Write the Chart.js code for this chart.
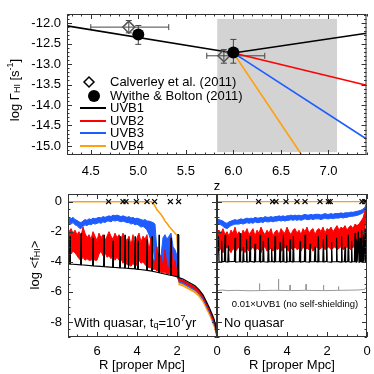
<!DOCTYPE html>
<html>
<head>
<meta charset="utf-8">
<script src="https://cdn.jsdelivr.net/npm/chart.js@4.4.1/dist/chart.umd.min.js"></script>
<style>
  html, body { margin: 0; padding: 0; background: #fff; }
  #wrap { position: relative; width: 374px; height: 374px; }
  #wrap canvas { position: absolute; left: 0; top: 0; }
</style>
</head>
<body>
<div id="wrap">
  <canvas id="top" width="374" height="374"></canvas>
  <canvas id="botL" width="374" height="374"></canvas>
  <canvas id="botR" width="374" height="374"></canvas>
</div>
<script>
// ---- top panel: photoionisation rate vs redshift ----
const Z_TICKS = [4.5, 5.0, 5.5, 6.0, 6.5, 7.0];
const G_TICKS = [-12.0, -12.5, -13.0, -13.5, -14.0, -14.5, -15.0];

const UVB1_Z = [4.25, 6.0, 7.4];
const UVB1_G = [-12.07, -12.73, -12.25];
const UVB2_Z = [6.0, 7.4];
const UVB2_G = [-12.73, -13.52];
const UVB3_Z = [6.0, 7.4];
const UVB3_G = [-12.73, -14.83];
const UVB4_Z = [6.0, 6.8];
const UVB4_G = [-12.73, -15.5];

// Calverley et al. (2011)
const CAL_Z = [4.9, 5.9];
const CAL_G = [-12.1, -12.8];
const CAL_Z_LO = [4.5, 5.72];
const CAL_Z_HI = [5.32, 6.33];
const CAL_G_LO = [-12.24, -12.98];
const CAL_G_HI = [-11.94, -12.65];

// Wyithe & Bolton (2011)
const WB_Z = [5.0, 6.0];
const WB_G = [-12.28, -12.72];
const WB_G_LO = [-12.52, -12.98];
const WB_G_HI = [-12.06, -12.4];

// shaded redshift range
const BAND_Z = [5.83, 7.09];
const BAND_G = [-11.9, -15.15];

// ---- bottom panels: neutral fraction along the sightline ----
const R_TICKS = [0, 2, 4, 6];
const F_TICKS = [0, -2, -4, -6, -8];

const R_GRID = [7.5, 7.4, 7.3, 7.2, 7.1, 7.0, 6.9, 6.8, 6.7, 6.6, 6.5, 6.4, 6.3, 6.2, 6.1, 6.0,
  5.9, 5.8, 5.7, 5.6, 5.5, 5.4, 5.3, 5.2, 5.1, 5.0, 4.9, 4.8, 4.7, 4.6, 4.5, 4.4, 4.3, 4.2, 4.1, 4.0,
  3.9, 3.8, 3.7, 3.6, 3.5, 3.4, 3.3, 3.2, 3.1, 3.0, 2.9, 2.8, 2.7, 2.6, 2.5, 2.4, 2.3, 2.2, 2.1, 2.0,
  1.9, 1.8, 1.7, 1.6, 1.5, 1.4, 1.3, 1.2, 1.1, 1.0, 0.9, 0.8, 0.7, 0.6, 0.5, 0.4, 0.3, 0.2, 0.1, 0.0];

// with quasar
const BLUE_Q_HI = [-1.15, -1.1, -1.15, -1.05, -1.2, -1.25, -1.35, -1.4, -1.3, -1.2, -1.25,
  -1.15, -1.2, -1.1, -1.15, -1.1, -1.05, -1.1, -1.0, -1.05, -1.0, -0.95, -1.0, -0.9, -0.95, -0.9,
  -0.95, -1.0, -0.95, -1.0, -1.05, -1.0, -1.1, -1.05, -1.15, -1.1, -1.15, -1.2, -1.25, -1.2, -1.3,
  -1.3, -1.35, -1.4, -1.5, -3.4, -3.5, -3.6, -2.4, -2.2, -2.5, -2.3, -2.1, -3.0, -3.2, -3.6,
  -5.16, -5.2, -5.25, -5.32, -5.4, -5.47, -5.55, -5.62, -5.7, -5.82, -5.95, -6.12, -6.3, -6.55, -6.85,
  -7.1, -7.4, -7.75, -8.1, -9.0];
const BLUE_Q_LO = [-1.5, -1.45, -1.5, -1.4, -1.55, -1.6, -1.75, -1.8, -1.65, -1.55, -1.6,
  -1.5, -1.55, -1.45, -1.5, -1.45, -1.4, -1.45, -1.35, -1.4, -1.3, -1.3, -1.35, -1.25, -1.3, -1.25,
  -1.3, -1.35, -1.3, -1.35, -1.4, -1.4, -1.5, -1.45, -1.55, -1.5, -1.6, -1.7, -1.65, -1.75, -1.9,
  -2.2, -2.6, -2.9, -4.3, -4.4, -4.4, -4.3, -4.4, -4.5, -4.4, -4.5, -4.6, -4.7, -4.8, -4.9,
  -5.36, -5.4, -5.45, -5.52, -5.6, -5.67, -5.75, -5.82, -5.9, -6.02, -6.15, -6.32, -6.5, -6.75, -7.05,
  -7.3, -7.6, -7.95, -8.3, -9.0];
const RED_Q_HI = [-2.1, -2.0, -1.8, -2.1, -1.9, -2.2, -2.0, -2.3, -1.7, -2.1, -2.4,
  -2.2, -2.5, -2.0, -2.3, -2.6, -2.1, -2.4, -2.2, -2.6, -2.3, -2.0, -2.3, -2.5, -2.1, -2.4,
  -2.2, -2.5, -2.1, -2.4, -2.6, -2.3, -2.9, -2.2, -3.1, -2.4, -2.1, -2.7, -2.3, -2.5, -2.2,
  -3.3, -2.4, -3.8, -4.1, -3.0, -4.3, -3.6, -4.4, -3.2, -4.3, -4.4, -2.4, -4.5, -3.9, -4.8,
  -5.14, -5.18, -5.23, -5.3, -5.38, -5.45, -5.53, -5.6, -5.68, -5.8, -5.93, -6.1, -6.28, -6.53, -6.83,
  -7.08, -7.38, -7.73, -8.08, -9.0];
const RED_Q_LO = [-3.5, -3.6, -3.5, -3.3, -3.4, -3.6, -3.8, -3.9, -3.7, -3.9, -3.8,
  -3.9, -3.9, -3.8, -3.9, -3.9, -3.5, -3.3, -3.6, -3.4, -3.7, -3.6, -3.8, -3.5, -3.9, -3.7,
  -3.9, -3.8, -4.1, -3.9, -4.2, -4.2, -4.3, -4.1, -4.3, -4.2, -3.9, -4.1, -4.0, -4.2, -4.3,
  -4.4, -4.4, -4.5, -4.5, -4.6, -4.6, -4.7, -4.7, -4.7, -4.8, -4.8, -4.8, -4.9, -4.9, -5.0,
  -5.26, -5.3, -5.35, -5.42, -5.5, -5.57, -5.65, -5.72, -5.8, -5.92, -6.05, -6.22, -6.4, -6.65, -6.95,
  -7.2, -7.5, -7.85, -8.2, -9.0];
const ORANGE_Q_HI = [0, 0, 0, 0, 0, 0, 0, 0, 0, 0, 0, 0, 0, 0, 0, 0, 0, 0, 0, 0, 0,
  0, 0, 0, 0, 0, 0, 0, 0, 0, 0, 0, 0, 0, 0, 0, 0, 0, 0, 0, 0, 0, 0,
  -0.1, -0.3, -0.55, -0.7, -0.85, -1.05, -1.3, -1.45, -1.65, -1.8, -1.95, -2.1, -2.25,
  -5.18, -5.22, -5.27, -5.34, -5.42, -5.49, -5.57, -5.64, -5.72, -5.84, -5.97, -6.14, -6.32, -6.57, -6.87,
  -7.12, -7.42, -7.77, -8.12, -9.0];
const ORANGE_Q_LO = [0, 0, 0, 0, 0, 0, 0, 0, 0, 0, 0, 0, 0, 0, 0, 0, 0, 0, 0, 0, 0,
  0, 0, 0, 0, 0, 0, 0, 0, 0, 0, 0, 0, 0, 0, 0, 0, 0, 0, 0, 0, 0, 0,
  -0.1, -0.3, -0.55, -0.7, -0.85, -1.05, -1.3, -1.45, -1.65, -1.8, -1.95, -2.1, -2.25,
  -5.51, -5.55, -5.6, -5.67, -5.75, -5.82, -5.9, -5.97, -6.05, -6.17, -6.3, -6.47, -6.65, -6.9, -7.2,
  -7.45, -7.75, -8.1, -8.45, -9.0];
const BLACK_Q = [[7.5, -4.1], [7.37, -4.15], [7.35, -2.3], [7.33, -4.15], [6.82, -4.2], [6.8, -2.1], [6.78, -4.2],
  [6.22, -4.28], [6.2, -2.4], [6.18, -4.28], [5.67, -4.33], [5.65, -2.2], [5.63, -4.33],
  [5.22, -4.37], [5.2, -2.6], [5.18, -4.37], [4.87, -4.4], [4.85, -2.3], [4.83, -4.4],
  [4.62, -4.42], [4.6, -2.2], [4.58, -4.42], [4.45, -4.44], [4.43, -2.5], [4.41, -4.44],
  [4.12, -4.47], [4.1, -2.3], [4.08, -4.48], [3.97, -4.5], [3.95, -2.6], [3.93, -4.5],
  [3.52, -4.57], [3.5, -2.5], [3.48, -4.58], [3.27, -4.62], [3.25, -2.3], [3.23, -4.63],
  [2.92, -4.72], [2.9, -2.2], [2.88, -4.73], [2.32, -4.9], [2.3, -2.4], [2.28, -4.9],
  [1.98, -5.0], [1.96, -2.2], [1.93, -2.2], [1.91, -5.06], [1.7, -5.15], [1.5, -5.3], [1.3, -5.45],
  [1.1, -5.6], [0.9, -5.85], [0.7, -6.2], [0.55, -6.6], [0.4, -7.0], [0.27, -7.4], [0.15, -7.8],
  [0.08, -8.2], [0.03, -8.6], [0, -9.0]];
const XMARK_Q = [5.42, 4.7, 4.55, 4.03, 3.5, 3.12, 2.33, 1.92];

// no quasar
const BLUE_N_HI = [-1.2, -1.2, -1.25, -1.3, -1.4, -1.45, -1.35, -1.3, -1.25, -1.2, -1.25,
  -1.2, -1.15, -1.2, -1.15, -1.1, -1.15, -1.1, -1.15, -1.05, -1.1, -1.1, -1.05, -1.1, -1.0, -1.05,
  -1.05, -1.0, -1.05, -1.0, -1.0, -0.95, -1.0, -0.95, -1.0, -0.95, -0.95, -0.9, -0.95, -0.9, -0.95,
  -0.9, -0.95, -0.9, -0.85, -0.9, -0.9, -0.85, -0.9, -0.85, -0.85, -0.85, -0.9, -0.85, -0.8, -0.85,
  -0.85, -0.8, -0.85, -0.8, -0.8, -0.8, -0.75, -0.8, -0.75, -0.75, -0.75, -0.7, -0.72, -0.68, -0.65,
  -0.62, -0.58, -0.5, -0.38, 0];
const BLUE_N_LO = [-1.5, -1.5, -1.55, -1.65, -1.75, -1.8, -1.7, -1.6, -1.55, -1.5, -1.5,
  -1.5, -1.45, -1.5, -1.45, -1.4, -1.45, -1.4, -1.45, -1.35, -1.4, -1.4, -1.35, -1.4, -1.3, -1.35,
  -1.35, -1.3, -1.35, -1.3, -1.3, -1.25, -1.3, -1.25, -1.3, -1.25, -1.25, -1.2, -1.25, -1.2, -1.25,
  -1.2, -1.25, -1.2, -1.15, -1.2, -1.2, -1.15, -1.2, -1.15, -1.15, -1.15, -1.2, -1.15, -1.1, -1.15,
  -1.15, -1.1, -1.15, -1.1, -1.1, -1.1, -1.05, -1.1, -1.05, -1.05, -1.0, -0.98, -0.97, -0.95, -0.92,
  -0.88, -0.82, -0.75, -0.6, -0.1];
const RED_N_HI = [-2.0, -1.9, -2.1, -1.8, -2.2, -2.0, -2.3, -1.9, -2.1, -1.7, -2.2,
  -2.0, -2.3, -1.9, -2.1, -1.8, -2.2, -2.0, -1.8, -2.3, -1.9, -2.1, -1.7, -2.0, -2.2, -1.9,
  -2.1, -1.8, -2.3, -2.0, -1.9, -2.2, -1.8, -2.0, -2.1, -1.7, -2.0, -2.2, -1.9, -1.8, -2.1,
  -1.9, -2.2, -1.8, -2.0, -1.7, -2.1, -1.9, -1.8, -2.2, -1.9, -1.8, -2.0, -1.7, -2.1, -1.8,
  -1.9, -1.7, -2.0, -1.8, -1.6, -1.9, -1.7, -1.8, -1.6, -1.9, -1.7, -1.6, -1.8, -1.5, -1.6,
  -1.5, -1.3, -1.1, -0.6, 0];
const RED_N_LO = [-3.2, -3.3, -3.1, -3.4, -3.2, -3.0, -3.2, -3.4, -3.1, -3.3, -3.2,
  -3.0, -3.3, -3.2, -3.4, -3.1, -3.3, -3.2, -3.0, -3.3, -3.1, -3.2, -3.4, -3.1, -3.0, -3.3,
  -3.2, -3.1, -3.3, -3.0, -3.2, -3.1, -3.3, -3.2, -3.0, -3.2, -3.3, -3.1, -3.2, -3.0, -3.2,
  -3.1, -3.3, -3.0, -3.2, -3.1, -3.2, -3.0, -3.3, -3.1, -3.0, -3.2, -3.1, -3.0, -3.2, -3.1,
  -3.0, -3.2, -3.1, -3.0, -3.2, -3.1, -3.0, -3.2, -3.1, -3.0, -3.1, -3.2, -3.0, -3.1, -3.0,
  -3.0, -2.9, -2.6, -1.8, -0.2];
const BLACK_N = [[7.5, -4.0], [7.46, -4.0], [7.43, -2.3], [7.4, -4.0], [7.3, -4.02], [7.27, -2.6], [7.24, -4.0],
  [7.13, -3.98], [7.1, -2.2], [7.07, -4.0], [6.96, -4.02], [6.93, -2.9], [6.9, -4.0],
  [6.63, -3.98], [6.6, -2.4], [6.57, -4.02], [6.38, -4.0], [6.35, -2.1], [6.32, -4.0],
  [6.21, -4.02], [6.18, -3.0], [6.15, -3.98], [6.05, -4.0], [6.02, -2.5], [5.99, -4.02],
  [5.88, -4.0], [5.85, -2.3], [5.82, -3.98], [5.63, -4.02], [5.6, -2.8], [5.57, -4.0],
  [5.38, -4.0], [5.35, -2.2], [5.32, -4.02], [5.21, -3.98], [5.18, -2.6], [5.15, -4.0],
  [4.96, -4.02], [4.93, -2.4], [4.9, -4.0], [4.8, -4.0], [4.77, -3.1], [4.74, -3.98],
  [4.63, -4.02], [4.6, -2.3], [4.57, -4.0], [4.38, -4.0], [4.35, -2.7], [4.32, -4.02],
  [4.21, -3.98], [4.18, -2.2], [4.15, -4.0], [4.05, -4.02], [4.02, -2.9], [3.99, -4.0],
  [3.88, -4.0], [3.85, -2.5], [3.82, -3.98], [3.71, -4.02], [3.68, -2.3], [3.65, -4.0],
  [3.38, -4.0], [3.35, -2.6], [3.32, -4.02], [3.13, -3.98], [3.1, -2.2], [3.07, -4.0],
  [2.88, -4.02], [2.85, -2.8], [2.82, -4.0], [2.63, -4.0], [2.6, -3.0], [2.57, -3.98],
  [2.46, -4.02], [2.43, -2.3], [2.4, -4.0], [2.21, -4.0], [2.18, -2.5], [2.15, -4.02],
  [2.05, -3.98], [2.02, -2.2], [1.99, -4.0], [1.8, -4.02], [1.77, -2.7], [1.74, -4.0],
  [1.55, -4.0], [1.52, -2.4], [1.49, -3.98], [1.3, -4.02], [1.27, -2.3], [1.24, -4.0],
  [1.13, -4.0], [1.1, -3.0], [1.07, -4.02], [0.96, -3.98], [0.93, -2.2], [0.9, -4.0],
  [0.8, -4.02], [0.77, -2.6], [0.74, -4.0], [0.63, -4.0], [0.6, -2.1], [0.57, -3.98],
  [0.55, -4.02], [0.52, -2.5], [0.49, -4.0], [0.46, -4.0], [0.43, -2.0], [0.4, -4.02],
  [0.38, -3.98], [0.35, -2.4], [0.32, -4.0], [0.3, -4.0], [0.27, -1.9], [0.24, -4.02],
  [0.21, -3.98], [0.18, -2.2], [0.15, -4.0], [0.13, -4.0], [0.1, -1.8], [0.07, -4.0],
  [0.04, -4.0], [0.02, -1.5], [0, -0.3]];
const GRAY_N = [[7.5, -5.92], [7.2, -5.88], [7.0, -5.92], [6.5, -5.9], [5.9, -5.93], [5.4, -5.92], [5.38, -5.45], [5.36, -5.92],
  [4.8, -5.9], [4.45, -5.9], [4.43, -5.15], [4.41, -5.9], [3.87, -5.92], [3.85, -5.55], [3.83, -5.92],
  [3.07, -5.9], [3.05, -5.5], [3.03, -5.9], [2.2, -5.92], [2.18, -5.55], [2.16, -5.92],
  [1.45, -5.9], [1.43, -5.65], [1.41, -5.9], [0.5, -5.88], [0.15, -5.85], [0.05, -5.75], [0, -5.45]];
const ORANGE_N = [[7.5, 0], [0, 0]];
const XMARK_N = [5.42, 4.72, 4.55, 4.05, 3.5, 3.1, 2.35, 1.93, 1.84, 0.25, 0.12, 0.05];

// ---- styling ----
const FONT = '"Liberation Sans", Arial, sans-serif';
Chart.defaults.font.family = FONT;
Chart.defaults.font.size = 13;
Chart.defaults.color = '#000';

const C_BLACK = '#000000';
const C_RED = '#ff0000';
const C_BLUE = '#1f5cff';
const C_ORANGE = '#ffa010';
const C_GRAY = '#9a9a9a';

const pts = (xs, ys) => xs.map((x, i) => ({ x: x, y: ys[i] }));
const pairs = arr => arr.map(p => ({ x: p[0], y: p[1] }));

function band(label, hi, lo, color, width) {
  return [
    { label: label, data: pts(R_GRID, hi), borderColor: color, backgroundColor: color,
      borderWidth: width, pointRadius: 0, fill: '+1' },
    { label: label + ' lo', data: pts(R_GRID, lo), borderColor: color, backgroundColor: color,
      borderWidth: width, pointRadius: 0, fill: false }
  ];
}

// inward ticks on all four sides plus a box, like the original plot
function eachTick(scale, minor, major, fn) {
  const lo = Math.min(scale.min, scale.max);
  const hi = Math.max(scale.min, scale.max);
  for (let k = Math.ceil(lo / minor - 1e-6); k * minor <= hi + 1e-6; k++) {
    const v = k * minor;
    const r = v / major;
    fn(Math.round(scale.getPixelForValue(v)) + 0.5, Math.abs(r - Math.round(r)) < 1e-6);
  }
}
const idlFrame = {
  id: 'idlFrame',
  afterDatasetsDraw(chart, args, o) {
    const { ctx, chartArea: a } = chart;
    ctx.save();
    ctx.strokeStyle = '#333';
    ctx.lineWidth = 1;
    ctx.beginPath();
    eachTick(chart.scales.x, o.xMinor, o.xMajor, (px, major) => {
      const len = major ? 5 : 2.5;
      ctx.moveTo(px, a.bottom); ctx.lineTo(px, a.bottom - len);
      ctx.moveTo(px, a.top); ctx.lineTo(px, a.top + len);
    });
    eachTick(chart.scales.y, o.yMinor, o.yMajor, (py, major) => {
      const len = major ? 5 : 2.5;
      ctx.moveTo(a.left, py); ctx.lineTo(a.left + len, py);
      ctx.moveTo(a.right, py); ctx.lineTo(a.right - len, py);
    });
    ctx.stroke();
    ctx.strokeRect(a.left + 0.5, a.top + 0.5, a.width - 1, a.height - 1);
    ctx.restore();
  }
};

// text with sub/superscripts: parts = [text, size, dy]
function richText(ctx, parts, x, y, align, rotate) {
  ctx.save();
  ctx.translate(x, y);
  if (rotate) ctx.rotate(-Math.PI / 2);
  ctx.textBaseline = 'middle';
  ctx.textAlign = 'left';
  ctx.fillStyle = '#000';
  let w = 0;
  parts.forEach(p => { ctx.font = p[1] + 'px ' + FONT; w += ctx.measureText(p[0]).width; });
  let cx = align === 'center' ? -w / 2 : 0;
  parts.forEach(p => {
    ctx.font = p[1] + 'px ' + FONT;
    ctx.fillText(p[0], cx, p[2] || 0);
    cx += ctx.measureText(p[0]).width;
  });
  ctx.restore();
}

function axes(xMin, xMax, xTicks, xFmt, yMin, yMax, yTicks, yFmt, opts) {
  return {
    x: {
      type: 'linear', min: xMin, max: xMax, reverse: !!opts.reverse,
      grid: { display: false, drawTicks: false }, border: { display: false },
      ticks: { padding: opts.xPad, callback: xFmt, maxRotation: 0 },
      afterBuildTicks: s => { s.ticks = xTicks.map(v => ({ value: v })); },
      afterFit: s => { s.height = 30; }
    },
    y: {
      type: 'linear', min: yMin, max: yMax,
      grid: { display: false, drawTicks: false }, border: { display: false },
      ticks: { padding: 6, callback: yFmt, display: !opts.noYLabels },
      afterBuildTicks: s => { s.ticks = yTicks.map(v => ({ value: v })); },
      afterFit: s => { s.width = opts.noYLabels ? 0 : 50; }
    }
  };
}

// ---------- top chart ----------
const topDecor = {
  id: 'topDecor',
  beforeDatasetsDraw(chart) {
    const { ctx, scales: { x, y } } = chart;
    ctx.save();
    ctx.fillStyle = '#d3d3d3';
    const x0 = x.getPixelForValue(BAND_Z[0]), x1 = x.getPixelForValue(BAND_Z[1]);
    const y0 = y.getPixelForValue(BAND_G[0]), y1 = y.getPixelForValue(BAND_G[1]);
    ctx.fillRect(x0, y0, x1 - x0, y1 - y0);
    // error bars
    ctx.strokeStyle = '#444';
    ctx.lineWidth = 1;
    ctx.beginPath();
    const cap = 3;
    CAL_Z.forEach((z, i) => {
      const px = x.getPixelForValue(z), py = y.getPixelForValue(CAL_G[i]);
      const xl = x.getPixelForValue(CAL_Z_LO[i]), xr = x.getPixelForValue(CAL_Z_HI[i]);
      const yt = y.getPixelForValue(CAL_G_HI[i]), yb = y.getPixelForValue(CAL_G_LO[i]);
      ctx.moveTo(xl, py); ctx.lineTo(xr, py);
      ctx.moveTo(xl, py - cap); ctx.lineTo(xl, py + cap);
      ctx.moveTo(xr, py - cap); ctx.lineTo(xr, py + cap);
      ctx.moveTo(px, yt); ctx.lineTo(px, yb);
      ctx.moveTo(px - cap, yt); ctx.lineTo(px + cap, yt);
      ctx.moveTo(px - cap, yb); ctx.lineTo(px + cap, yb);
    });
    WB_Z.forEach((z, i) => {
      const px = x.getPixelForValue(z);
      const yt = y.getPixelForValue(WB_G_HI[i]), yb = y.getPixelForValue(WB_G_LO[i]);
      ctx.moveTo(px, yt); ctx.lineTo(px, yb);
      ctx.moveTo(px - cap, yt); ctx.lineTo(px + cap, yt);
      ctx.moveTo(px - cap, yb); ctx.lineTo(px + cap, yb);
    });
    ctx.stroke();
    ctx.restore();
  },
  afterDraw(chart) {
    const ctx = chart.ctx;
    ctx.save();
    // legend
    ctx.strokeStyle = '#000';
    ctx.lineWidth = 1.5;
    ctx.beginPath();
    ctx.moveTo(89, 77); ctx.lineTo(94, 82); ctx.lineTo(89, 87); ctx.lineTo(84, 82); ctx.closePath();
    ctx.stroke();
    ctx.fillStyle = '#000';
    ctx.beginPath();
    ctx.arc(94, 96, 6, 0, Math.PI * 2);
    ctx.fill();
    const legendLines = [['UVB1', C_BLACK, 108], ['UVB2', C_RED, 121], ['UVB3', C_BLUE, 133], ['UVB4', C_ORANGE, 146]];
    ctx.lineWidth = 2;
    legendLines.forEach(l => {
      ctx.strokeStyle = l[1];
      ctx.beginPath(); ctx.moveTo(80, l[2]); ctx.lineTo(106, l[2]); ctx.stroke();
    });
    ctx.restore();
    richText(ctx, [['Calverley et al. (2011)', 13]], 110, 82, 'left');
    richText(ctx, [['Wyithe & Bolton (2011)', 13]], 110, 96, 'left');
    legendLines.forEach(l => richText(ctx, [[l[0], 13]], 110, l[2], 'left'));
    // axis titles
    richText(ctx, [['z', 13]], 217, 186, 'center');
    richText(ctx, [['log \u0393', 13], ['HI', 9, 3], [' [s', 13], ['-1', 9, -4], [']', 13]], 15, 90, 'center', true);
  }
};

new Chart(document.getElementById('top'), {
  type: 'line',
  data: {
    datasets: [
      { label: 'Wyithe & Bolton (2011)', data: pts(WB_Z, WB_G), showLine: false,
        pointRadius: 6, pointBackgroundColor: '#000', pointBorderColor: '#000', pointBorderWidth: 0 },
      { label: 'Calverley et al. (2011)', data: pts(CAL_Z, CAL_G), showLine: false, pointStyle: 'rectRot',
        pointRadius: 6, pointBackgroundColor: 'rgba(0,0,0,0)', pointBorderColor: '#555', pointBorderWidth: 1.5 },
      { label: 'UVB1', data: pts(UVB1_Z, UVB1_G), borderColor: C_BLACK, borderWidth: 1.6, pointRadius: 0 },
      { label: 'UVB2', data: pts(UVB2_Z, UVB2_G), borderColor: C_RED, borderWidth: 1.6, pointRadius: 0 },
      { label: 'UVB3', data: pts(UVB3_Z, UVB3_G), borderColor: C_BLUE, borderWidth: 1.6, pointRadius: 0 },
      { label: 'UVB4', data: pts(UVB4_Z, UVB4_G), borderColor: C_ORANGE, borderWidth: 1.6, pointRadius: 0 }
    ]
  },
  options: {
    responsive: false, animation: false, devicePixelRatio: 1,
    layout: { padding: { left: 17, top: 14, right: 7, bottom: 189 } },
    plugins: { legend: { display: false }, tooltip: { enabled: false },
      idlFrame: { xMinor: 0.1, xMajor: 0.5, yMinor: 0.1, yMajor: 0.5 } },
    scales: axes(4.25, 7.4, Z_TICKS, v => v.toFixed(1), -15.22, -11.78, G_TICKS, v => v.toFixed(1), { xPad: 9 })
  },
  plugins: [topDecor, idlFrame]
});

// ---------- bottom charts ----------
function crosses(rs) {
  return { label: 'LLS', data: rs.map(r => ({ x: r, y: 0 })), showLine: false, pointStyle: 'crossRot',
    pointRadius: 3.5, pointBorderColor: '#000', pointBorderWidth: 1.2 };
}

const botLDecor = {
  id: 'botLDecor',
  afterDraw(chart) {
    const ctx = chart.ctx;
    richText(ctx, [['With quasar, t', 13], ['q', 9, 3], ['=10', 13], ['7', 9, -4], ['yr', 13]], 74, 323, 'left');
    richText(ctx, [['log <f', 13], ['HI', 9, 3], ['>', 13]], 35, 265, 'center', true);
    richText(ctx, [['R [proper Mpc]', 13]], 142, 365, 'center');
  }
};
const botRDecor = {
  id: 'botRDecor',
  afterDraw(chart) {
    const ctx = chart.ctx;
    richText(ctx, [['No quasar', 13]], 224, 323, 'left');
    richText(ctx, [['0.01\u00d7UVB1 (no self-shielding)', 9.5]], 295, 304, 'center');
    richText(ctx, [['R [proper Mpc]', 13]], 292, 365, 'center');
  }
};

new Chart(document.getElementById('botL'), {
  type: 'line',
  data: {
    datasets: [
      crosses(XMARK_Q),
      { label: 'UVB1', data: pairs(BLACK_Q), borderColor: C_BLACK, borderWidth: 1.2, pointRadius: 0 },
      ...band('UVB2', RED_Q_HI, RED_Q_LO, C_RED, 1),
      ...band('UVB3', BLUE_Q_HI, BLUE_Q_LO, C_BLUE, 1),
      ...band('UVB4', ORANGE_Q_HI, ORANGE_Q_LO, C_ORANGE, 1.3)
    ]
  },
  options: {
    responsive: false, animation: false, devicePixelRatio: 1,
    layout: { padding: { left: 18, top: 194, right: 157, bottom: 7 } },
    plugins: { legend: { display: false }, tooltip: { enabled: false },
      idlFrame: { xMinor: 0.5, xMajor: 2, yMinor: 0.5, yMajor: 2 } },
    scales: axes(0, 7.45, R_TICKS, v => String(v), -9, 0.5, F_TICKS, v => String(v), { xPad: 7, reverse: true })
  },
  plugins: [botLDecor, idlFrame]
});

new Chart(document.getElementById('botR'), {
  type: 'line',
  data: {
    datasets: [
      crosses(XMARK_N),
      { label: 'UVB4', data: pairs(ORANGE_N), borderColor: C_ORANGE, borderWidth: 1.3, pointRadius: 0 },
      { label: 'UVB1', data: pairs(BLACK_N), borderColor: C_BLACK, borderWidth: 1.2, pointRadius: 0 },
      ...band('UVB2', RED_N_HI, RED_N_LO, C_RED, 1),
      ...band('UVB3', BLUE_N_HI, BLUE_N_LO, C_BLUE, 1),
      { label: '0.01xUVB1', data: pairs(GRAY_N), borderColor: C_GRAY, borderWidth: 1, pointRadius: 0 }
    ]
  },
  options: {
    responsive: false, animation: false, devicePixelRatio: 1,
    layout: { padding: { left: 217, top: 194, right: 7, bottom: 7 } },
    plugins: { legend: { display: false }, tooltip: { enabled: false },
      idlFrame: { xMinor: 0.5, xMajor: 2, yMinor: 0.5, yMajor: 2 } },
    scales: axes(0, 7.5, R_TICKS, v => String(v), -9, 0.5, F_TICKS, v => String(v), { xPad: 7, reverse: true, noYLabels: true })
  },
  plugins: [botRDecor, idlFrame]
});
</script>
</body>
</html>
